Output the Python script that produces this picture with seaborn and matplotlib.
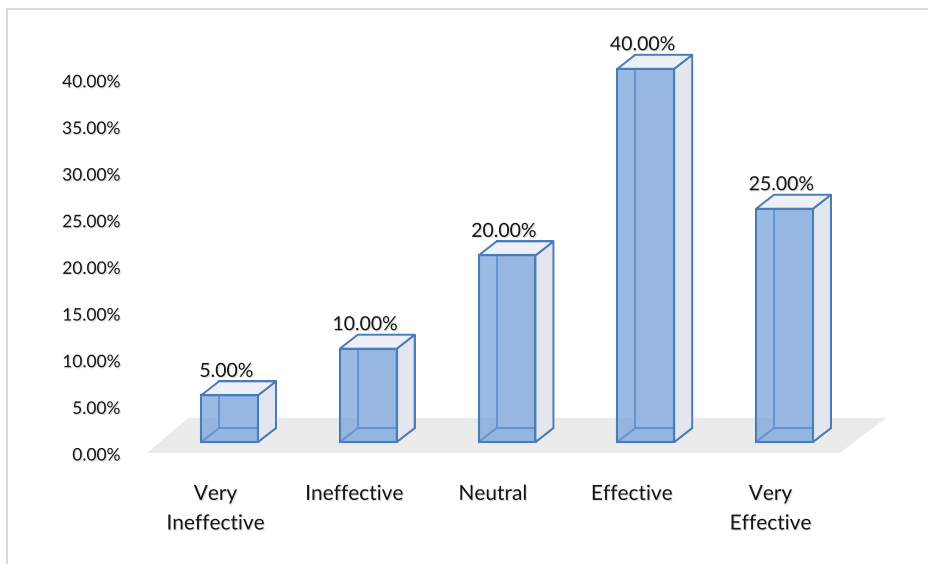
import matplotlib
matplotlib.use("Agg")
import numpy as np
import pandas as pd
import matplotlib.pyplot as plt
import seaborn as sns
from matplotlib.patches import Polygon, Rectangle
from matplotlib import transforms as mtrans
import matplotlib.patheffects as pe

# ---- data ----
categories = ["Very\nIneffective", "Ineffective", "Neutral", "Effective", "Very\nEffective"]
percentages = [5.0, 10.0, 20.0, 40.0, 25.0]
tick_values = [0, 5, 10, 15, 20, 25, 30, 35, 40]
tick_labels = [f"{v:.2f}%" for v in tick_values]
bar_labels = [f"{v:.2f}%" for v in percentages]

df = pd.DataFrame({"category": categories, "percent": percentages})

sns.set_theme(style="white")
plt.rcParams["font.family"] = ["Lato", "DejaVu Sans"]

W, H = 929, 564
fig = plt.figure(figsize=(W / 100, H / 100), dpi=100)
fig.patch.set_facecolor("white")

# plot area in pixels
L, R, T, B = 130, 900, 30, 470
ax = fig.add_axes([L / W, 1 - B / H, (R - L) / W, (B - T) / H])
ax.patch.set_alpha(0)

edge = "#4A7CB8"
front_rgba = (0.44, 0.62, 0.85, 0.70)

sns.barplot(data=df, x="category", y="percent", color="#709ED8", saturation=1,
            width=0.41, edgecolor=edge, linewidth=1.5, ax=ax, zorder=5)

# scale: category spacing 138.75 px, 9.33 px per percent, bar base at y=442 px
x_scale, y_scale, x0_px, base_px = 138.75, 9.33, 229.5, 442
ax.set_xlim((L - x0_px) / x_scale, (R - x0_px) / x_scale)
ax.set_ylim((base_px - B) / y_scale, (base_px - T) / y_scale)

for s in ax.spines.values():
    s.set_visible(False)
ax.grid(False)

# depth of the boxes in pixels
DX, DY = 18, 14


def shift(pt, dx, dy):
    p = ax.transData.transform(pt) + np.array([dx, dy])
    return tuple(ax.transData.inverted().transform(p))


side_col = "#E3E7ED"
top_col = "#EDF1F7"
back_col = "#F2F4F8"

bars = [p for p in ax.patches if isinstance(p, Rectangle)]
for p in bars:
    x0, y0 = p.get_x(), p.get_y()
    w, h = p.get_width(), p.get_height()
    fl, fr, ftr, ftl = (x0, y0), (x0 + w, y0), (x0 + w, y0 + h), (x0, y0 + h)
    bl, br, btr, btl = [shift(c, DX, DY) for c in (fl, fr, ftr, ftl)]
    # back face
    ax.add_patch(Polygon([bl, br, btr, btl], closed=True, facecolor=back_col,
                         edgecolor=edge, linewidth=1.4, zorder=2))
    # bottom face
    ax.add_patch(Polygon([fl, fr, br, bl], closed=True, facecolor="none",
                         edgecolor=edge, linewidth=1.4, zorder=2))
    # right side face
    ax.add_patch(Polygon([fr, br, btr, ftr], closed=True, facecolor=side_col,
                         edgecolor=edge, linewidth=1.4, zorder=3))
    # top face
    ax.add_patch(Polygon([ftl, ftr, btr, btl], closed=True, facecolor=top_col,
                         edgecolor=edge, linewidth=1.4, zorder=3))
    p.set_facecolor(front_rgba)
    p.set_edgecolor(edge)

# floor under the bars
f_front = [shift((-0.5, 0), -13, -11), shift((4.5, 0), -14, -11)]
f_back = [shift((4.5, 0), 32, 24), shift((-0.5, 0), 28, 24)]
ax.add_patch(Polygon(f_front + f_back, closed=True, facecolor="#EBEBEB",
                     edgecolor="none", zorder=1))

shadow = [pe.withSimplePatchShadow(offset=(0.8, -0.8), shadow_rgbFace="#999999", alpha=0.35)]
text_col = "#141414"

# value labels above the boxes
for p, lab in zip(bars, bar_labels):
    cx = p.get_x() + p.get_width() / 2
    top = p.get_y() + p.get_height()
    ax.annotate(lab, (cx, top), xytext=(DX / 2 - 12, DY + 10), textcoords="offset pixels",
                ha="center", va="center", fontsize=14, color=text_col,
                path_effects=shadow, zorder=6)

# y axis
ax.set_yticks(tick_values)
ax.set_yticklabels(tick_labels)
ax.tick_params(axis="y", length=0, pad=7, labelsize=12.5, labelcolor=text_col)
y_off = mtrans.ScaledTranslation(0, -12 / 100, fig.dpi_scale_trans)
for lab in ax.get_yticklabels():
    lab.set_transform(lab.get_transform() + y_off)
    lab.set_path_effects(shadow)

# x axis
ax.set_xlabel("")
ax.set_ylabel("")
ax.tick_params(axis="x", length=0, pad=10, labelsize=15, labelcolor=text_col)
x_off = mtrans.ScaledTranslation(-14 / 100, 0, fig.dpi_scale_trans)
for lab in ax.get_xticklabels():
    lab.set_transform(lab.get_transform() + x_off)
    lab.set_linespacing(1.6)
    lab.set_path_effects(shadow)

# chart area border
fig.add_artist(Rectangle((7 / W, -0.05), 1.1, 1 - 9 / H + 0.05, transform=fig.transFigure,
                         facecolor="none", edgecolor="#D9D9D9", linewidth=1.5))

fig.savefig("out.png", dpi=100)
